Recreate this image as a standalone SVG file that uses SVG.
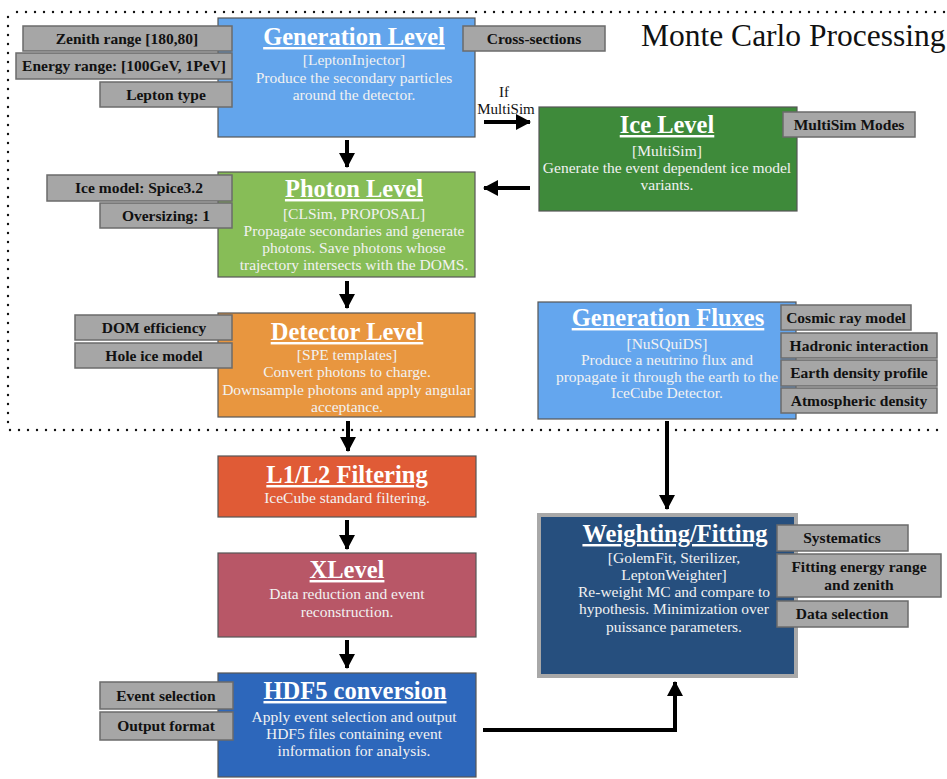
<svg xmlns="http://www.w3.org/2000/svg" width="947" height="779" viewBox="0 0 947 779">
<defs>
<style>
.t{font-family:"Liberation Serif","Times New Roman",serif;font-weight:bold;font-size:24.5px;fill:#fff;text-anchor:middle;text-decoration:underline}
.b{font-family:"Liberation Serif","Times New Roman",serif;font-size:15.5px;fill:#f2f2f2;text-anchor:middle}
.g rect{fill:#a6a6a6;stroke:#6b6b6b;stroke-width:1.5}
.g text{font-family:"Liberation Serif","Times New Roman",serif;font-weight:bold;font-size:15.5px;fill:#111;text-anchor:middle}
.box{stroke:#555;stroke-width:1.2}
.dot{fill:none;stroke:#111;stroke-width:2.4;stroke-linecap:round;stroke-dasharray:0 9}
.arr{fill:none;stroke:#000;stroke-width:4}
</style>
<marker id="ah" markerUnits="userSpaceOnUse" markerWidth="16" markerHeight="16" viewBox="0 0 16 16" refX="14" refY="8" orient="auto">
<path d="M0,0 L15,8 L0,16 Z" fill="#000"/>
</marker>
</defs>
<rect width="947" height="779" fill="#fff"/>

<g id="frame">
<path class="dot" d="M17,12 H945"/>
<path class="dot" d="M8,17 V425"/>
<path class="dot" d="M10,430 H945"/>
<text x="641" y="46" font-family="Liberation Serif, Times New Roman, serif" font-size="31.5" fill="#111">Monte Carlo Processing</text>
</g>

<g id="connectors">
<line class="arr" x1="347" y1="140" x2="347" y2="167" marker-end="url(#ah)"/>
<line class="arr" x1="347" y1="281" x2="347" y2="308" marker-end="url(#ah)"/>
<line class="arr" x1="348" y1="421" x2="348" y2="451" marker-end="url(#ah)"/>
<line class="arr" x1="347" y1="520" x2="347" y2="549" marker-end="url(#ah)"/>
<line class="arr" x1="347" y1="640" x2="347" y2="668" marker-end="url(#ah)"/>
<line class="arr" x1="667" y1="421" x2="667" y2="509" marker-end="url(#ah)"/>
<line class="arr" x1="484" y1="122" x2="530" y2="122" marker-end="url(#ah)"/>
<line class="arr" x1="530" y1="188" x2="484" y2="188" marker-end="url(#ah)"/>
<path class="arr" d="M483,730 H675 V682" marker-end="url(#ah)"/>
<text x="504" y="97" font-family="Liberation Serif, Times New Roman, serif" font-size="15" fill="#111" text-anchor="middle">If</text>
<text x="506" y="114" font-family="Liberation Serif, Times New Roman, serif" font-size="15" fill="#111" text-anchor="middle">MultiSim</text>
</g>

<g id="generation-level">
<rect class="box" x="218" y="18" width="257" height="119" fill="#63a5ec"/>
<text class="t" x="354" y="45">Generation Level</text>
<text class="b" x="354" y="65">[LeptonInjector]</text>
<text class="b" x="354" y="83">Produce the secondary particles</text>
<text class="b" x="354" y="100">around the detector.</text>
</g>
<g id="gen-params" class="g">
<rect x="23" y="26" width="209" height="25"/><text x="127" y="44">Zenith range [180,80]</text>
<rect x="16" y="53" width="216" height="26"/><text x="124" y="71">Energy range: [100GeV, 1PeV]</text>
<rect x="100" y="82" width="132" height="25"/><text x="166" y="100">Lepton type</text>
<rect x="463" y="26" width="142" height="25"/><text x="534" y="44">Cross-sections</text>
</g>

<g id="ice-level">
<rect class="box" x="539" y="107" width="258" height="104" fill="#3e8a3a"/>
<text class="t" x="667" y="133">Ice Level</text>
<text class="b" x="667" y="156">[MultiSim]</text>
<text class="b" x="667" y="173">Generate the event dependent ice model</text>
<text class="b" x="667" y="190">variants.</text>
</g>
<g id="ice-params" class="g">
<rect x="783" y="112" width="132" height="25"/><text x="849" y="130">MultiSim Modes</text>
</g>

<g id="photon-level">
<rect class="box" x="218" y="172" width="257" height="105" fill="#87bd57"/>
<text class="t" x="354" y="197">Photon Level</text>
<text class="b" x="354" y="219">[CLSim, PROPOSAL]</text>
<text class="b" x="354" y="236">Propagate secondaries and generate</text>
<text class="b" x="354" y="253">photons. Save photons whose</text>
<text class="b" x="354" y="270">trajectory intersects with the DOMS.</text>
</g>
<g id="photon-params" class="g">
<rect x="47" y="175" width="185" height="26"/><text x="139" y="193">Ice model: Spice3.2</text>
<rect x="100" y="203" width="132" height="25"/><text x="166" y="221">Oversizing: 1</text>
</g>

<g id="detector-level">
<rect class="box" x="218" y="313" width="257" height="104" fill="#e8963f"/>
<text class="t" x="347" y="340">Detector Level</text>
<text class="b" x="347" y="360">[SPE templates]</text>
<text class="b" x="347" y="377">Convert photons to charge.</text>
<text class="b" x="347" y="395">Downsample photons and apply angular</text>
<text class="b" x="347" y="412">acceptance.</text>
</g>
<g id="detector-params" class="g">
<rect x="75" y="315" width="157" height="25"/><text x="154" y="333">DOM efficiency</text>
<rect x="75" y="343" width="157" height="25"/><text x="154" y="361">Hole ice model</text>
</g>

<g id="generation-fluxes">
<rect class="box" x="538" y="302" width="258" height="117" fill="#64a6ee"/>
<text class="t" x="668" y="326">Generation Fluxes</text>
<text class="b" x="667" y="349">[NuSQuiDS]</text>
<text class="b" x="667" y="365">Produce a neutrino flux and</text>
<text class="b" x="667" y="382">propagate it through the earth to the</text>
<text class="b" x="667" y="398">IceCube Detector.</text>
</g>
<g id="flux-params" class="g">
<rect x="781" y="305" width="130" height="25"/><text x="846" y="323">Cosmic ray model</text>
<rect x="781" y="333" width="156" height="25"/><text x="859" y="351">Hadronic interaction</text>
<rect x="781" y="360" width="156" height="26"/><text x="859" y="378">Earth density profile</text>
<rect x="781" y="388" width="156" height="25"/><text x="859" y="406">Atmospheric density</text>
</g>

<g id="l1l2-filtering">
<rect class="box" x="218" y="456" width="258" height="61" fill="#e05b36"/>
<text class="t" x="347" y="483">L1/L2 Filtering</text>
<text class="b" x="347" y="503">IceCube standard filtering.</text>
</g>

<g id="xlevel">
<rect class="box" x="218" y="553" width="258" height="84" fill="#b85767"/>
<text class="t" x="347" y="578">XLevel</text>
<text class="b" x="347" y="599">Data reduction and event</text>
<text class="b" x="347" y="617">reconstruction.</text>
</g>

<g id="hdf5-conversion">
<rect class="box" x="218" y="673" width="258" height="104" fill="#2d67bb"/>
<text class="t" x="355" y="699">HDF5 conversion</text>
<text class="b" x="354" y="722">Apply event selection and output</text>
<text class="b" x="354" y="739">HDF5 files containing event</text>
<text class="b" x="354" y="756">information for analysis.</text>
</g>
<g id="hdf5-params" class="g">
<rect x="100" y="682" width="133" height="27"/><text x="166" y="701">Event selection</text>
<rect x="100" y="712" width="133" height="28"/><text x="166" y="731">Output format</text>
</g>

<g id="weighting-fitting">
<rect x="539" y="515" width="257" height="161" fill="#264f7e" stroke="#a8a8a8" stroke-width="4"/>
<text class="t" x="675" y="542">Weighting/Fitting</text>
<text class="b" x="674" y="563">[GolemFit, Sterilizer,</text>
<text class="b" x="674" y="580">LeptonWeighter]</text>
<text class="b" x="674" y="597">Re-weight MC and compare to</text>
<text class="b" x="674" y="614">hypothesis. Minimization over</text>
<text class="b" x="674" y="632">puissance parameters.</text>
</g>
<g id="weighting-params" class="g">
<rect x="777" y="525" width="131" height="26"/><text x="842" y="543">Systematics</text>
<rect x="777" y="554" width="164" height="43"/><text x="859" y="572">Fitting energy range</text><text x="859" y="590">and zenith</text>
<rect x="777" y="601" width="131" height="26"/><text x="842" y="619">Data selection</text>
</g>
</svg>
